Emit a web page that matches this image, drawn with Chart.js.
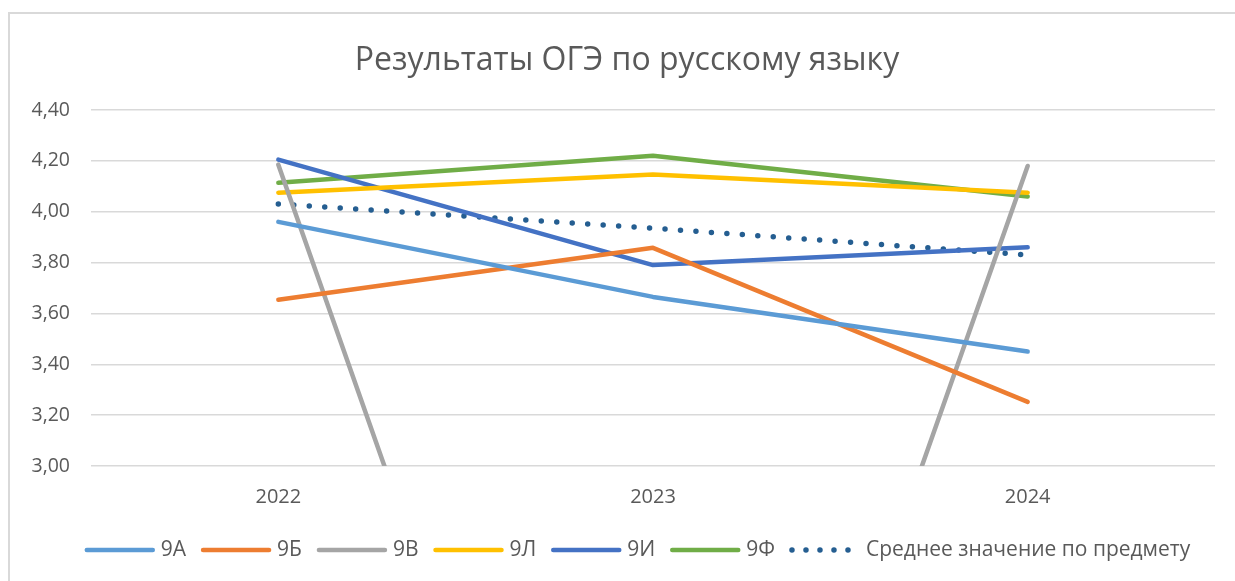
<!DOCTYPE html>
<html>
<head>
<meta charset="utf-8">
<script src="https://cdn.jsdelivr.net/npm/chart.js@4.4.1/dist/chart.umd.min.js"></script>
<style>
  html, body { margin: 0; padding: 0; background: #fff; }
  #wrap { position: relative; width: 1235px; height: 581px; }
</style>
</head>
<body>
<div id="wrap"><canvas id="lineChart" width="1235" height="581"></canvas></div>
<script>
var years = ["2022", "2023", "2024"];
var cls9A = [3.96, 3.665, 3.45];
var cls9B = [3.654, 3.858, 3.252];
var cls9V = [4.185, 0, 4.18];
var cls9L = [4.075, 4.146, 4.075];
var cls9I = [4.205, 3.79, 3.86];
var cls9F = [4.114, 4.22, 4.06];
var average = [4.03, 3.935, 3.83];
var yTicks = [3.0, 3.2, 3.4, 3.6, 3.8, 4.0, 4.2, 4.4];
var chartTitle = "Результаты ОГЭ по русскому языку";

var FONT = "'Open Sans', 'Noto Sans', sans-serif";
var TEXT = "#595959";

function series(label, data, color, dotted) {
    var ds = {
        label: label,
        data: data,
        borderColor: color,
        backgroundColor: color,
        borderWidth: dotted ? 5.5 : 4.5,
        borderCapStyle: "round",
        borderJoinStyle: "round",
        pointRadius: 0,
        pointHoverRadius: 0,
        tension: 0,
        fill: false
    };
    if (dotted) ds.borderDash = [0, 15.5];
    return ds;
}

var lineData = {
    labels: years,
    datasets: [
        series("9А", cls9A, "#5b9bd5"),
        series("9Б", cls9B, "#ed7d31"),
        series("9В", cls9V, "#a5a5a5"),
        series("9Л", cls9L, "#ffc000"),
        series("9И", cls9I, "#4472c4"),
        series("9Ф", cls9F, "#70ad47"),
        series("Среднее значение по предмету", average, "#255e91", true)
    ]
};

// рамка сверху и слева + заголовок
var framePlugin = {
    id: "frame",
    beforeDraw: function (chart) {
        var ctx = chart.ctx;
        ctx.save();
        ctx.strokeStyle = "#d9d9d9";
        ctx.lineWidth = 2;
        ctx.beginPath();
        ctx.moveTo(9, 581);
        ctx.lineTo(9, 13);
        ctx.lineTo(1235, 13);
        ctx.stroke();
        ctx.font = "32px " + FONT;
        ctx.fillStyle = TEXT;
        ctx.textAlign = "center";
        ctx.textBaseline = "middle";
        ctx.fillText(chartTitle, 627, 61);
        ctx.restore();
    }
};

// легенда снизу: линия-образец и подпись
var legendPlugin = {
    id: "bottomLegend",
    afterDraw: function (chart) {
        var ctx = chart.ctx;
        var sets = chart.data.datasets;
        var sample = 72, gap = 5, space = 14, y = 550;
        ctx.save();
        ctx.font = "21px " + FONT;
        ctx.textBaseline = "middle";
        var total = 0;
        sets.forEach(function (ds, i) {
            total += sample + gap + ctx.measureText(ds.label).width + (i < sets.length - 1 ? space : 0);
        });
        var x = 637 - total / 2;
        sets.forEach(function (ds) {
            ctx.strokeStyle = ds.borderColor;
            ctx.lineWidth = ds.borderWidth;
            ctx.lineCap = "round";
            ctx.setLineDash(ds.borderDash ? [0, 14] : []);
            ctx.beginPath();
            ctx.moveTo(x + 3, y);
            ctx.lineTo(x + sample - 3, y);
            ctx.stroke();
            ctx.setLineDash([]);
            x += sample + gap;
            ctx.fillStyle = TEXT;
            ctx.fillText(ds.label, x, y);
            x += ctx.measureText(ds.label).width + space;
        });
        ctx.restore();
    }
};

var lineOptions = {
    responsive: false,
    animation: false,
    layout: { padding: { left: 0, right: 20, top: 110, bottom: 0 } },
    plugins: {
        legend: { display: false },
        tooltip: { enabled: false },
        title: { display: false }
    },
    scales: {
        x: {
            offset: true,
            grid: { display: false, drawTicks: false },
            border: { display: false },
            ticks: { color: TEXT, font: { family: FONT, size: 20 }, padding: 19 },
            afterFit: function (scale) { scale.height = 115; }
        },
        y: {
            min: 3,
            max: 4.4,
            afterBuildTicks: function (scale) {
                scale.ticks = yTicks.map(function (v) { return { value: v }; });
            },
            grid: { color: "#d9d9d9", lineWidth: 1.5, drawTicks: false },
            border: { display: false },
            ticks: {
                color: TEXT,
                font: { family: FONT, size: 19.5 },
                padding: 21,
                callback: function (v) { return Number(v).toFixed(2).replace(".", ","); }
            },
            afterFit: function (scale) { scale.width = 91; }
        }
    }
};

var ctx = document.getElementById("lineChart").getContext("2d");
new Chart(ctx, { type: "line", data: lineData, options: lineOptions, plugins: [framePlugin, legendPlugin] });
</script>
</body>
</html>
